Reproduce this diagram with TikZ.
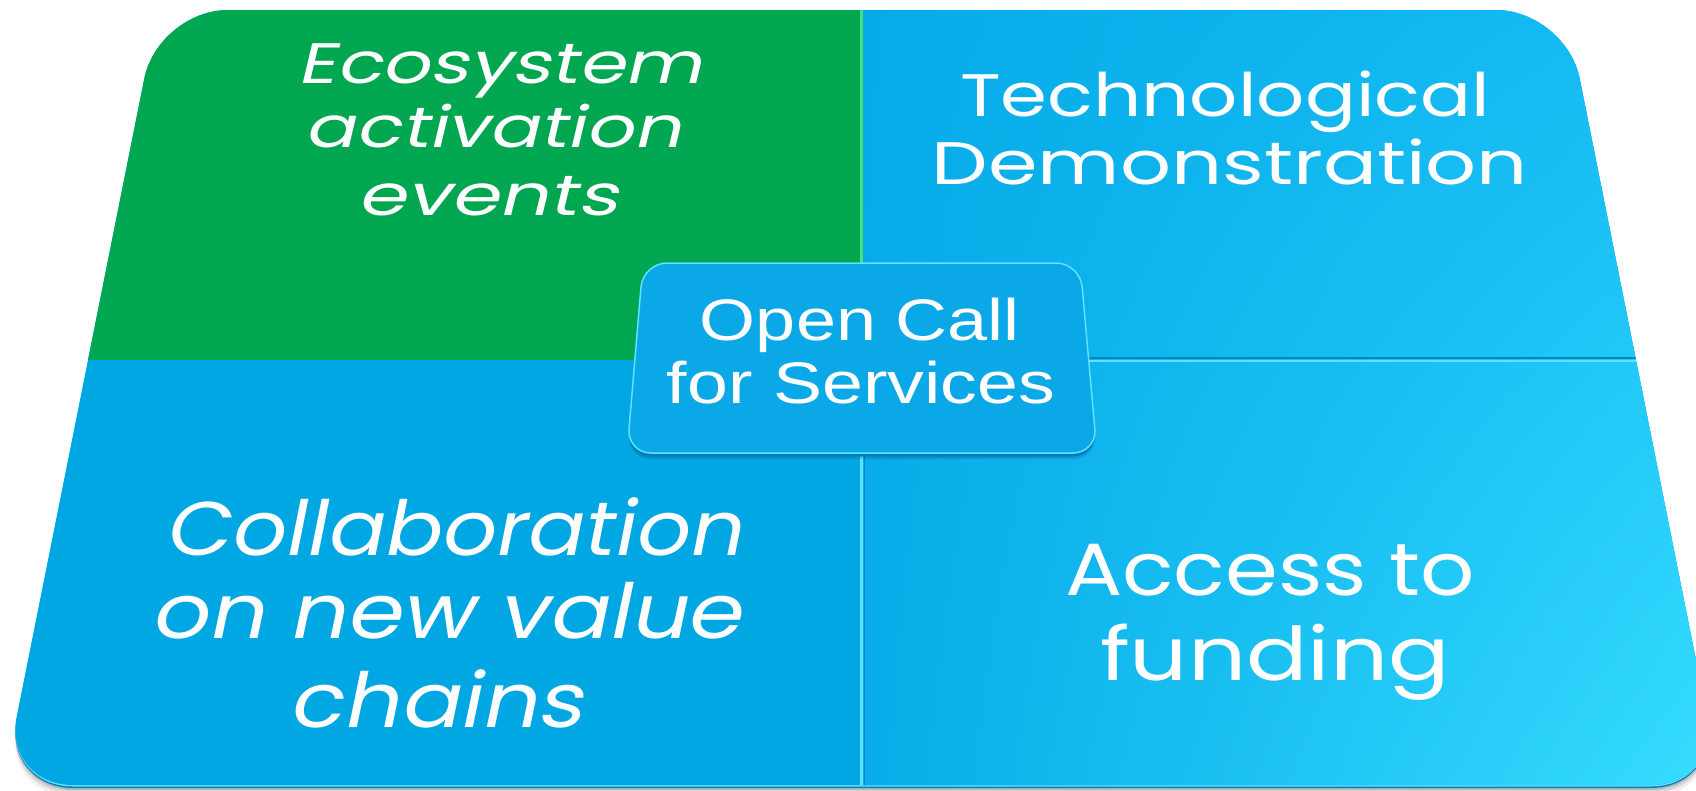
\documentclass[tikz,border=0pt]{standalone}
\usepackage{fontspec}
\usepackage{graphicx}
\usetikzlibrary{shadings}
\newfontfamily\popfont{Poppins}
\newfontfamily\popitfont{Poppins}[FakeSlant=0.18]
\newfontfamily\arialfont{Liberation Sans}
\definecolor{gr}{RGB}{0,166,80}
\definecolor{lgr}{RGB}{70,225,120}
\definecolor{bbase}{RGB}{0,167,227}
\definecolor{blul}{RGB}{6,171,232}
\definecolor{blur}{RGB}{22,188,244}
\definecolor{blll}{RGB}{8,172,232}
\definecolor{bllr}{RGB}{55,222,255}
\definecolor{rim}{RGB}{0,125,190}
\definecolor{hl}{RGB}{95,225,255}
\definecolor{dk}{RGB}{0,135,200}
\definecolor{cbox}{RGB}{10,168,230}
\newcommand{\fitw}[2]{\resizebox{#1}{\height}{#2}}
\begin{document}
\begin{tikzpicture}[x=1pt,y=-1pt,
  outerp/.style={rounded corners=70pt, insert path={(862,10) -- (1566,10) -- (1721,785) -- (3,785) -- (158,10) -- cycle}},
  boxp/.style={rounded corners=24pt, insert path={(862,263) -- (1080,263) -- (1097,453) -- (627,453) -- (643,263) -- cycle}},
  lbl/.style={inner sep=0pt, anchor=base, text=white},
  itl/.style={lbl, font=\popitfont\fontsize{#1}{#1}\selectfont},
  upl/.style={lbl, font=\popfont\fontsize{#1}{#1}\selectfont},
  arl/.style={lbl, font=\arialfont\fontsize{#1}{#1}\selectfont}]
\useasboundingbox (0,0) rectangle (1696,790);
\clip (0,0) rectangle (1696,790);
% shadow
\begin{scope}[shift={(0,12)}]\path[fill=black, fill opacity=0.06, outerp];\end{scope}
\begin{scope}[shift={(0,8)}]\path[fill=black, fill opacity=0.10, outerp];\end{scope}
\begin{scope}[shift={(0,5)}]\path[fill=black, fill opacity=0.15, outerp];\end{scope}
% rim
\begin{scope}[shift={(0,3)}]\path[fill=rim, outerp];\end{scope}
\begin{scope}[shift={(0,1.5)}]\path[fill=hl, outerp];\end{scope}
% face
\begin{scope}
  \path[clip, outerp];
  \fill[bbase] (0,0) rectangle (1730,790);
  \shade[upper left=blul, upper right=blur, lower left=blll, lower right=bllr] (862,0) rectangle (1730,790);
  \fill[gr] (0,0) rectangle (861,360);
  \draw[line width=3pt, lgr] (861,0) -- (861,360);
  \draw[line width=3pt, hl] (861,360) -- (861,790);
  \draw[line width=1pt, dk] (864,360) -- (864,790);
  \draw[line width=2.5pt, dk] (862,358) -- (1730,358);
  \draw[line width=1.2pt, hl] (862,361) -- (1730,361);
\end{scope}
% center box
\begin{scope}[shift={(0,6)}]\path[fill=black, fill opacity=0.12, boxp];\end{scope}
\begin{scope}[shift={(0,3.5)}]\path[fill=rim, boxp];\end{scope}
\path[fill=cbox, draw=hl, line width=1.5pt, boxp];
% texts
\node[itl=57] (eco1) at (500,83) {\fitw{405pt}{Ecosystem}};
\node[itl=57] (eco2) at (493,147) {\fitw{376pt}{activation}};
\node[itl=57] (eco3) at (488,215) {\fitw{260pt}{events}};
\node[upl=60] (tec1) at (1225,116) {\fitw{530pt}{Technological}};
\node[upl=60] (tec2) at (1230,184) {\fitw{596pt}{Demonstration}};
\node[itl=76] (col1) at (453,555) {\fitw{577pt}{Collaboration}};
\node[itl=76] (col2) at (446,638) {\fitw{590pt}{on new value}};
\node[itl=76] (col3) at (436,727) {\fitw{294pt}{chains}};
\node[upl=74] (acc1) at (1270,595) {\fitw{410pt}{Access to}};
\node[upl=74] (acc2) at (1275,680) {\fitw{350pt}{funding}};
\node[arl=58.6] (oc1) at (860,340) {\fitw{320pt}{Open Call}};
\node[arl=58.6] (oc2) at (861,403) {\fitw{388pt}{for Services}};
\end{tikzpicture}
\end{document}
